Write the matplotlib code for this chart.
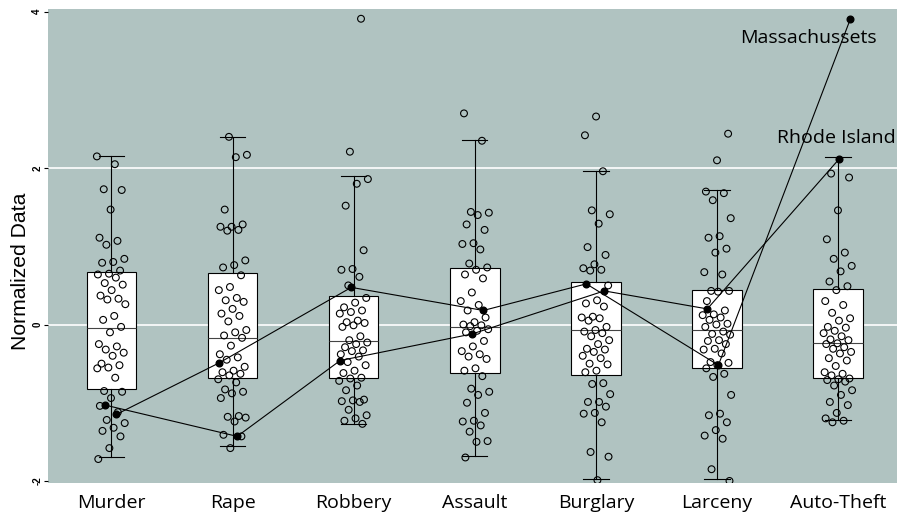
import numpy as np
import matplotlib.pyplot as plt

categories = ["Murder", "Rape", "Robbery", "Assault", "Burglary", "Larceny", "Auto-Theft"]

# normalized crime rates of the other 48 states, one list per crime
murder = [2.15, 2.05, 1.73, 1.72, 1.47, 1.11, 1.07, 1.02, 0.84, 0.80, 0.79, 0.69,
          0.65, 0.64, 0.60, 0.53, 0.51, 0.44, 0.37, 0.33, 0.32, 0.26, 0.11, 0.06,
          -0.03, -0.10, -0.25, -0.28, -0.32, -0.36, -0.40, -0.50, -0.52, -0.55, -0.56, -0.68,
          -0.85, -0.86, -0.94, -1.04, -1.12, -1.22, -1.26, -1.32, -1.36, -1.43, -1.58, -1.72]
rape = [2.40, 2.17, 2.14, 1.47, 1.28, 1.25, 1.25, 1.21, 1.20, 0.82, 0.76, 0.73,
        0.63, 0.48, 0.44, 0.34, 0.31, 0.29, 0.20, 0.14, 0.11, 0.04, -0.07, -0.10,
        -0.14, -0.17, -0.27, -0.38, -0.42, -0.45, -0.54, -0.59, -0.61, -0.63, -0.65, -0.70,
        -0.74, -0.83, -0.86, -0.88, -0.94, -1.17, -1.18, -1.19, -1.24, -1.41, -1.43, -1.58]
robbery = [3.91, 2.21, 1.86, 1.80, 1.52, 0.95, 0.71, 0.70, 0.61, 0.50, 0.34, 0.28,
           0.22, 0.18, 0.16, 0.14, 0.05, 0.03, 0.02, -0.01, -0.03, -0.15, -0.20, -0.23,
           -0.25, -0.29, -0.33, -0.34, -0.38, -0.41, -0.48, -0.52, -0.59, -0.62, -0.68, -0.69,
           -0.72, -0.78, -0.84, -0.96, -0.97, -0.98, -0.99, -1.09, -1.16, -1.20, -1.23, -1.27]
assault = [2.70, 2.35, 1.44, 1.43, 1.40, 1.28, 1.21, 1.04, 1.03, 0.96, 0.78, 0.73,
           0.70, 0.64, 0.59, 0.41, 0.30, 0.25, 0.18, 0.09, 0.03, 0.00, -0.01, -0.02,
           -0.06, -0.08, -0.10, -0.21, -0.28, -0.34, -0.38, -0.41, -0.44, -0.56, -0.59, -0.66,
           -0.82, -0.86, -0.90, -1.00, -1.13, -1.23, -1.24, -1.29, -1.37, -1.49, -1.50, -1.70]
burglary = [2.66, 2.42, 1.96, 1.46, 1.41, 1.29, 0.99, 0.89, 0.77, 0.72, 0.70, 0.69,
            0.50, 0.31, 0.27, 0.23, 0.10, 0.09, 0.08, 0.05, -0.03, -0.07, -0.09, -0.11,
            -0.15, -0.20, -0.25, -0.31, -0.32, -0.35, -0.40, -0.43, -0.50, -0.51, -0.59, -0.61,
            -0.75, -0.76, -0.89, -0.99, -0.99, -1.05, -1.13, -1.14, -1.25, -1.63, -1.69, -1.99]
larceny = [2.44, 2.10, 1.70, 1.68, 1.59, 1.36, 1.13, 1.11, 0.97, 0.92, 0.67, 0.64,
           0.43, 0.43, 0.42, 0.30, 0.18, 0.13, 0.12, 0.09, 0.06, 0.01, 0.00, -0.03,
           -0.09, -0.12, -0.13, -0.20, -0.21, -0.25, -0.31, -0.32, -0.37, -0.48, -0.49, -0.52,
           -0.56, -0.63, -0.67, -0.90, -1.14, -1.16, -1.25, -1.35, -1.42, -1.46, -1.85, -2.00]
auto_theft = [1.93, 1.88, 1.46, 1.09, 0.92, 0.84, 0.75, 0.68, 0.55, 0.49, 0.44, 0.30,
              0.25, 0.15, 0.08, 0.05, -0.03, -0.04, -0.08, -0.11, -0.15, -0.19, -0.20, -0.24,
              -0.25, -0.29, -0.31, -0.35, -0.37, -0.43, -0.46, -0.53, -0.61, -0.63, -0.65, -0.69,
              -0.70, -0.71, -0.73, -0.78, -0.84, -0.90, -0.99, -1.03, -1.13, -1.20, -1.23, -1.25]

# the two highlighted states, in category order
massachusetts = [-1.15, -0.49, 0.475, 0.18, 0.52, -0.52, 3.91]
rhode_island = [-1.03, -1.43, -0.46, -0.12, 0.43, 0.20, 2.12]

# box summaries per crime
whisker_low = [-1.70, -1.556, -1.266, -1.684, -1.97, -1.98, -1.215]
q1 = [-0.827, -0.678, -0.678, -0.619, -0.648, -0.555, -0.69]
median = [-0.043, -0.166, -0.214, -0.031, -0.073, -0.073, -0.235]
q3 = [0.673, 0.66, 0.362, 0.729, 0.541, 0.448, 0.451]
whisker_high = [2.156, 2.40, 1.90, 2.366, 1.96, 1.717, 2.143]

others = [murder, rape, robbery, assault, burglary, larceny, auto_theft]

fig, ax = plt.subplots(figsize=(8.97, 5.19), dpi=100)
fig.subplots_adjust(left=0.0532, right=1.0, bottom=0.0688, top=0.9827)
ax.set_facecolor("#b0c3c1")

pos = np.arange(1, len(categories) + 1)

stats = []
for i, name in enumerate(categories):
    stats.append(dict(label=name, whislo=whisker_low[i], q1=q1[i], med=median[i],
                      q3=q3[i], whishi=whisker_high[i]))

ax.bxp(stats, positions=pos, widths=0.41, capwidths=0.21, showfliers=False,
       patch_artist=True,
       boxprops=dict(facecolor="white", edgecolor="black", linewidth=0.8),
       medianprops=dict(color="#444444", linewidth=0.8),
       whiskerprops=dict(color="black", linewidth=0.8),
       capprops=dict(color="black", linewidth=0.8))

# jittered points; the highlighted states sit at the end of each column
mass_x, ri_x = [], []
for k, vals in enumerate(others):
    ys = np.array(vals + [massachusetts[k], rhode_island[k]])
    jit = ((np.arange(len(ys)) * 0.618034 + k * 0.377) % 1.0 - 0.5) * 0.24
    xs = pos[k] + jit
    ax.scatter(xs[:-2], ys[:-2], s=24, facecolors="none", edgecolors="black",
               linewidths=0.8, zorder=3)
    mass_x.append(xs[-2])
    ri_x.append(xs[-1])

for xs, ys in [(mass_x, massachusetts), (ri_x, rhode_island)]:
    ax.plot(xs, ys, color="black", linewidth=0.8, marker="o", markersize=4.8,
            markerfacecolor="black", markeredgecolor="black", zorder=4)

ax.annotate("Massachussets", xy=(mass_x[-1], massachusetts[-1]), xytext=(-30, -14),
            textcoords="offset points", ha="center", va="center",
            fontsize=14, family="Open Sans")
ax.annotate("Rhode Island", xy=(ri_x[-1], rhode_island[-1]), xytext=(-2, 15),
            textcoords="offset points", ha="center", va="center",
            fontsize=14, family="Open Sans")

ax.set_xlim(0.474, 7.487)
ax.set_ylim(-2.03, 4.035)
ax.set_yticks([-2, 0, 2, 4])
ax.set_yticklabels(["-2", "0", "2", "4"], rotation=90, va="center",
                   fontweight="bold", fontsize=7, family="Liberation Sans")
ax.tick_params(axis="y", length=3, width=0.8, pad=1)
ax.set_xticks(pos)
ax.set_xticklabels(categories, fontsize=14, family="Open Sans")
ax.tick_params(axis="x", length=0, pad=8)

# white reference lines only at 0 and 2
for y in [0, 2]:
    ax.axhline(y, color="white", linewidth=1.2, zorder=0.5)
for sp in ax.spines.values():
    sp.set_visible(False)

ax.set_ylabel("Normalized Data", fontsize=15.2, family="Liberation Sans", va="center")
ax.yaxis.set_label_coords(-0.032, 0.4466)

fig.savefig("out.png", dpi=100)
